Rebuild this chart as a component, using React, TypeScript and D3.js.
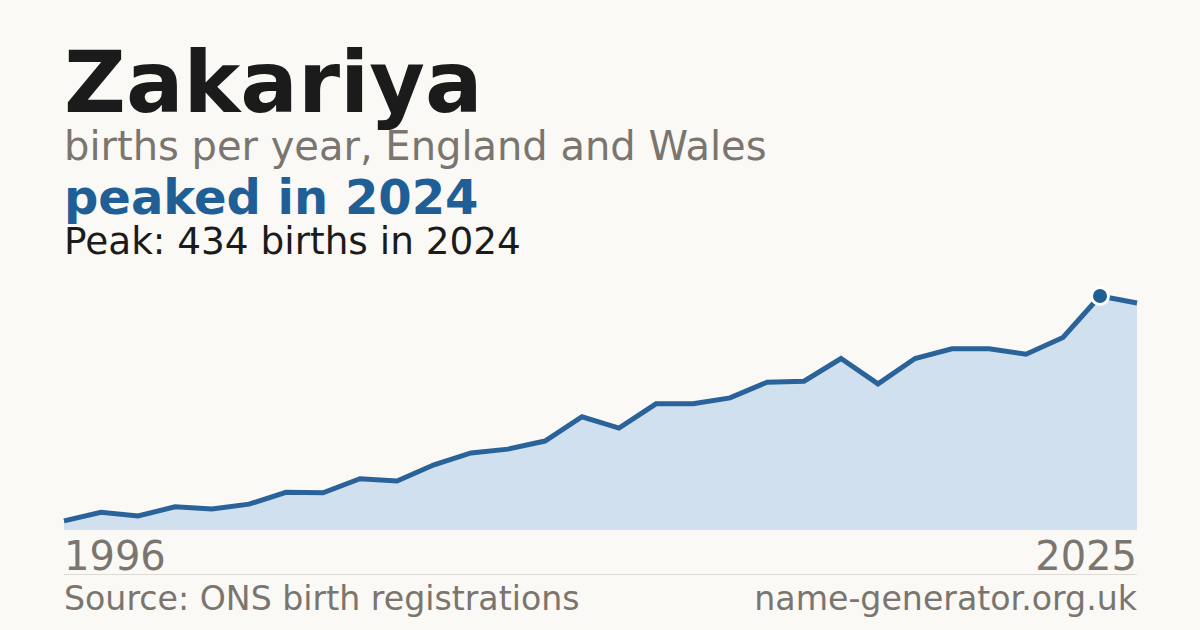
import { useEffect, useRef } from "react";
import * as d3 from "d3";

const years = d3.range(1996, 2026);
const births = [
  17, 33, 26, 43, 39, 48, 70, 69, 95, 91, 121, 143, 150, 165, 210, 189, 234,
  234, 245, 274, 276, 318, 271, 318, 336, 336, 326, 357, 434, 421,
];
const nameLabel = "Zakariya";
const subtitle = "births per year, England and Wales";
const headline = "peaked in 2024";
const peakNote = "Peak: 434 births in 2024";
const startLabel = "1996";
const endLabel = "2025";
const sourceLabel = "Source: ONS birth registrations";
const siteLabel = "name-generator.org.uk";

const App = () => {
  const chartRef = useRef<SVGSVGElement>(null);

  useEffect(() => {
    const width = 1200;
    const height = 630;
    const left = 64;
    const right = 1137;
    const baseline = 530;
    const peakY = 296;
    const font = "DejaVu Sans, sans-serif";
    const grey = "#7a756e";
    const blue = "#1f5f96";

    const svg = d3.select(chartRef.current);
    svg.selectAll("*").remove();

    svg
      .append("rect")
      .attr("width", width)
      .attr("height", height)
      .attr("fill", "#faf9f5");

    const data = years.map((y, i) => ({ year: y, value: births[i] }));

    const x = d3
      .scaleLinear()
      .domain([years[0], years[years.length - 1]])
      .range([left, right]);
    const maxV = d3.max(births) || 0;
    const y = d3.scaleLinear().domain([0, maxV]).range([baseline, peakY]);

    const area = d3
      .area<{ year: number; value: number }>()
      .x((d) => x(d.year))
      .y0(baseline)
      .y1((d) => y(d.value));

    const line = d3
      .line<{ year: number; value: number }>()
      .x((d) => x(d.year))
      .y((d) => y(d.value));

    svg
      .append("path")
      .datum(data)
      .attr("d", area)
      .attr("fill", "#d0e0ef");

    svg
      .append("path")
      .datum(data)
      .attr("d", line)
      .attr("fill", "none")
      .attr("stroke", "#2a6399")
      .attr("stroke-width", 5)
      .attr("stroke-linejoin", "miter");

    const peak = data.find((d) => d.value === maxV)!;
    svg
      .append("circle")
      .attr("cx", x(peak.year))
      .attr("cy", y(peak.value))
      .attr("r", 8.5)
      .attr("fill", blue)
      .attr("stroke", "#ffffff")
      .attr("stroke-width", 3);

    const text = (
      s: string,
      tx: number,
      ty: number,
      size: number,
      fill: string,
      weight = "normal",
      anchor = "start",
    ) =>
      svg
        .append("text")
        .attr("x", tx)
        .attr("y", ty)
        .attr("font-family", font)
        .attr("font-size", size)
        .attr("font-weight", weight)
        .attr("fill", fill)
        .attr("text-anchor", anchor)
        .text(s);

    text(nameLabel, 64, 112, 85.4, "#1b1b1b", "bold");
    text(subtitle, 64, 160, 40, grey);
    text(headline, 64, 214, 48, blue, "bold");
    text(peakNote, 64, 254, 37.4, "#1b1b1b");

    text(startLabel, left, 570, 40, grey);
    text(endLabel, right, 570, 40, grey, "normal", "end");

    svg
      .append("line")
      .attr("x1", left)
      .attr("x2", right)
      .attr("y1", 574.5)
      .attr("y2", 574.5)
      .attr("stroke", "#dedbd5")
      .attr("stroke-width", 1);

    text(sourceLabel, left, 610, 33.2, grey);
    text(siteLabel, right, 610, 33.2, grey, "normal", "end");
  }, []);

  return (
    <svg
      ref={chartRef}
      width={1200}
      height={630}
      style={{ display: "block", position: "absolute", top: 0, left: 0 }}
    />
  );
};

export default App;
